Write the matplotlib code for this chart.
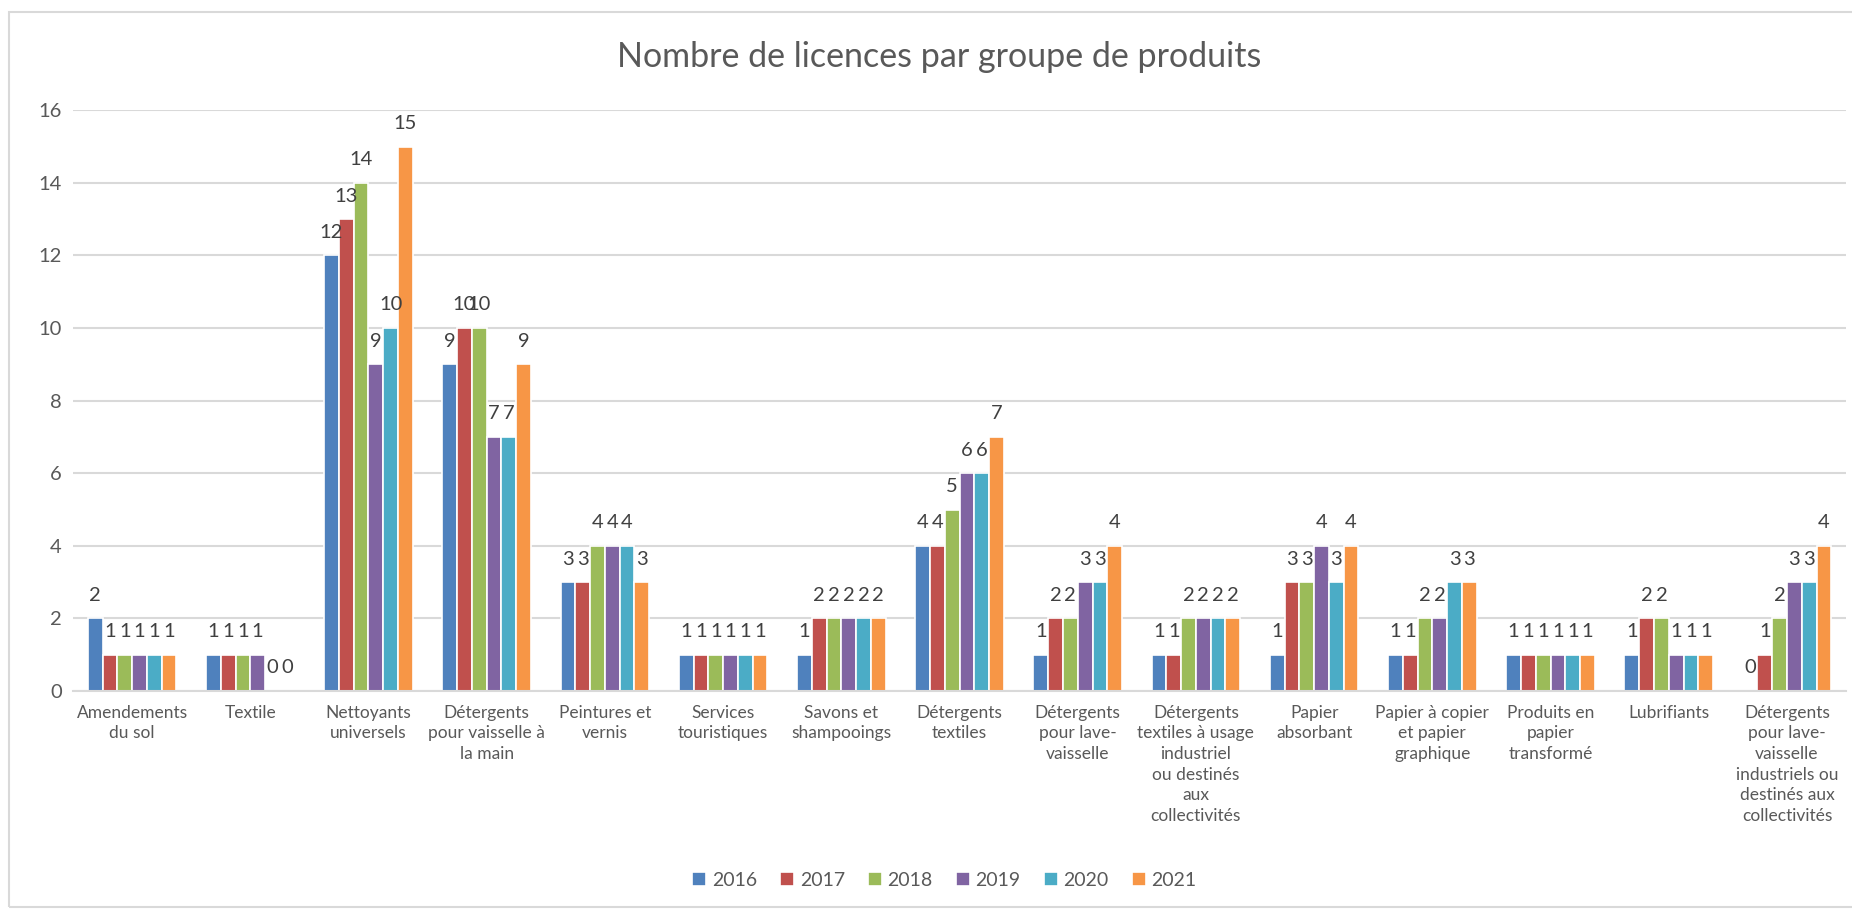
import numpy as np
import matplotlib.pyplot as plt
from matplotlib.patches import Rectangle

plt.rcParams['font.family'] = ['Lato', 'DejaVu Sans']

categories = ["Amendements\ndu sol", "Textile", "Nettoyants\nuniversels",
              "Détergents\npour vaisselle à\nla main", "Peintures et\nvernis",
              "Services\ntouristiques", "Savons et\nshampooings", "Détergents\ntextiles",
              "Détergents\npour lave-\nvaisselle",
              "Détergents\ntextiles à usage\nindustriel\nou destinés\naux\ncollectivités",
              "Papier\nabsorbant", "Papier à copier\net papier\ngraphique",
              "Produits en\npapier\ntransformé", "Lubrifiants",
              "Détergents\npour lave-\nvaisselle\nindustriels ou\ndestinés aux\ncollectivités"]
years = ["2016", "2017", "2018", "2019", "2020", "2021"]
v2016 = [2, 1, 12, 9, 3, 1, 1, 4, 1, 1, 1, 1, 1, 1, 0]
v2017 = [1, 1, 13, 10, 3, 1, 2, 4, 2, 1, 3, 1, 1, 2, 1]
v2018 = [1, 1, 14, 10, 4, 1, 2, 5, 2, 2, 3, 2, 1, 2, 2]
v2019 = [1, 1, 9, 7, 4, 1, 2, 6, 3, 2, 4, 2, 1, 1, 3]
v2020 = [1, 0, 10, 7, 4, 1, 2, 6, 3, 2, 3, 3, 1, 1, 3]
v2021 = [1, 0, 15, 9, 3, 1, 2, 7, 4, 2, 4, 3, 1, 1, 4]
series = [v2016, v2017, v2018, v2019, v2020, v2021]
colors = ['#4F81BD', '#C0504D', '#9BBB59', '#8064A2', '#4BACC6', '#F79646']

fig = plt.figure(figsize=(18.52, 9.11), dpi=100)
ax = fig.add_axes([0.0394, 0.2415, 0.9574, 0.6375])

x = np.arange(len(categories))
w = 0.125
for i, (vals, c, yr) in enumerate(zip(series, colors, years)):
    pos = x + (i - 2.5) * w
    ax.bar(pos, vals, width=w, color=c, edgecolor='white', linewidth=1.2, label=yr)
    for p, v in zip(pos, vals):
        ax.text(p, v + 0.4, str(v), ha='center', va='bottom', fontsize=14.5, color='#404040')

ax.set_xlim(-0.5, len(categories) - 0.5)
ax.set_ylim(0, 16)
ax.set_yticks(range(0, 17, 2))
ax.yaxis.grid(True, color='#D9D9D9', linewidth=1.5)
ax.set_axisbelow(True)
for s in ['top', 'right', 'left']:
    ax.spines[s].set_visible(False)
ax.spines['bottom'].set_color('#D9D9D9')
ax.spines['bottom'].set_linewidth(1.5)
ax.tick_params(length=0, colors='#595959', pad=8)
ax.set_xticks(x)
ax.set_xticklabels(categories, fontsize=12.5, color='#595959', linespacing=1.35)
ax.tick_params(axis='x', pad=10)
for lab in ax.get_yticklabels():
    lab.set_fontsize(14.5)

fig.text(0.507, 0.937, "Nombre de licences par groupe de produits", ha='center', va='center',
         fontsize=24.5, color='#595959')

leg = fig.legend(loc='center', bbox_to_anchor=(0.51, 0.034), ncol=6, frameon=False,
                 fontsize=14, handlelength=0.7, handleheight=0.7, handletextpad=0.3,
                 columnspacing=1.2)
for t in leg.get_texts():
    t.set_color('#595959')

fig.patches.append(Rectangle((9 / 1852, 0.004), 1.0, 0.983, transform=fig.transFigure,
                             fill=False, edgecolor='#D9D9D9', linewidth=1.5))

fig.savefig('out.png', dpi=100, facecolor='white')
